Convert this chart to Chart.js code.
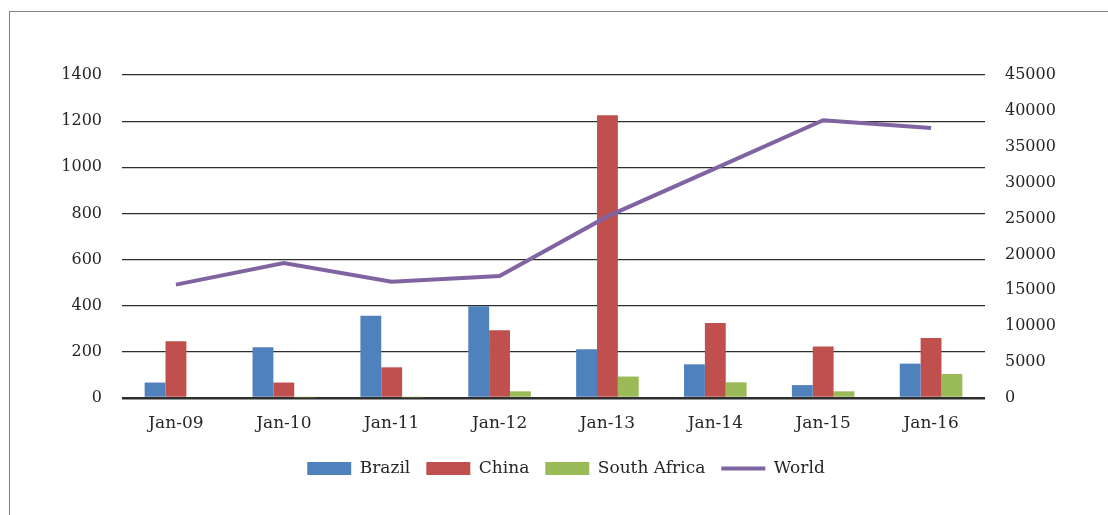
<!DOCTYPE html>
<html>
<head>
<meta charset="utf-8">
<script src="https://cdn.jsdelivr.net/npm/chart.js@4/dist/chart.umd.min.js"></script>
<style>
  html, body { margin: 0; padding: 0; background: #fff; }
  #wrap { position: relative; width: 1108px; height: 515px; overflow: hidden; }
  #frame { position: absolute; left: 9px; top: 11px; width: 1200px; height: 600px; border: 1.5px solid #808080; }
  #myChart { position: absolute; left: 0; top: 0; }
</style>
</head>
<body>
<div id="wrap">
  <div id="frame"></div>
  <canvas id="myChart" width="1108" height="515"></canvas>
</div>
<script>
// dados
const labels = ['Jan-09', 'Jan-10', 'Jan-11', 'Jan-12', 'Jan-13', 'Jan-14', 'Jan-15', 'Jan-16']
const brazil = [67, 220, 357, 398, 211, 146, 56, 149]
const china = [246, 67, 133, 294, 1226, 325, 223, 260]
const southAfrica = [0, 3, 3, 29, 93, 68, 29, 104]
const world = [15800, 18800, 16200, 17000, 25300, 32000, 38700, 37600]

const leftTicks = [0, 200, 400, 600, 800, 1000, 1200, 1400]
const rightTicks = [0, 5000, 10000, 15000, 20000, 25000, 30000, 35000, 40000, 45000]

const fontFamily = "'DejaVu Serif', serif"
const textColor = '#262626'

const ctx = document.querySelector('#myChart').getContext('2d')

const barSet = (label, values, color) => ({
    type: 'bar',
    label: label,
    data: values,
    backgroundColor: color,
    borderWidth: 0,
    pointStyle: 'rect',
    yAxisID: 'y',
    order: 1,
    categoryPercentage: 0.58,
    barPercentage: 1,
})

const data = {
    labels,
    datasets: [
        barSet('Brazil', brazil, '#4F81BD'),
        barSet('China', china, '#C0504D'),
        barSet('South Africa', southAfrica, '#9BBB59'),
        {
            type: 'line',
            label: 'World',
            data: world,
            borderColor: '#8064A2',
            backgroundColor: '#8064A2',
            borderWidth: 4,
            pointRadius: 0,
            pointStyle: 'line',
            tension: 0,
            yAxisID: 'y1',
            order: 0,
        }
    ]
}

const plainNumber = (value) => String(value)

const config = {
    data: data,
    options: {
        responsive: false,
        devicePixelRatio: 1,
        animation: false,
        layout: { padding: { top: 75, left: 24, right: 0, bottom: 28 } },
        font: { family: fontFamily },
        scales: {
            x: {
                grid: { display: false },
                border: { display: false },
                ticks: { color: textColor, font: { family: fontFamily, size: 17 }, padding: 7 },
                afterFit: (scale) => { scale.height = 46 },
            },
            y: {
                position: 'left',
                min: 0,
                max: 1400,
                afterBuildTicks: (scale) => { scale.ticks = leftTicks.map(v => ({ value: v })) },
                ticks: { color: textColor, font: { family: fontFamily, size: 16 }, padding: 20, callback: plainNumber },
                grid: {
                    drawTicks: false,
                    color: '#2e2e2e',
                    lineWidth: (c) => c.tick && c.tick.value === 0 ? 2.5 : 1.2,
                },
                border: { display: false },
                afterFit: (scale) => { scale.width = 98 },
            },
            y1: {
                position: 'right',
                min: 0,
                max: 45000,
                afterBuildTicks: (scale) => { scale.ticks = rightTicks.map(v => ({ value: v })) },
                ticks: { color: textColor, font: { family: fontFamily, size: 16 }, padding: 20, callback: plainNumber },
                grid: { display: false, drawTicks: false },
                border: { display: false },
                afterFit: (scale) => { scale.width = 123 },
            }
        },
        plugins: {
            tooltip: { enabled: false },
            legend: {
                position: 'bottom',
                labels: {
                    usePointStyle: true,
                    pointStyleWidth: 44,
                    boxHeight: 13,
                    padding: 16,
                    color: textColor,
                    font: { family: fontFamily, size: 17 },
                    sort: (a, b) => a.datasetIndex - b.datasetIndex,
                }
            }
        }
    }
}

const myChart = new Chart(ctx, config)
</script>
</body>
</html>
